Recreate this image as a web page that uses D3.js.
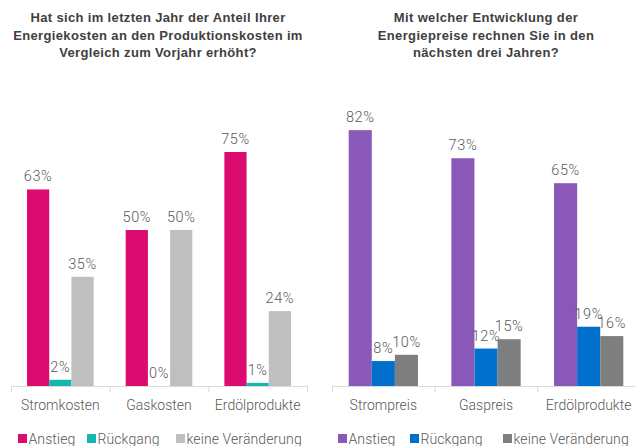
<!DOCTYPE html>
<html><head><meta charset="utf-8">
<script src="https://cdn.jsdelivr.net/npm/d3@7"></script>
<style>body{margin:0;background:#fff}svg{display:block}</style>
</head><body>
<svg id="c" width="635" height="446"></svg>
<script>
const leftTitle = ["Hat sich im letzten Jahr der Anteil Ihrer","Energiekosten an den Produktionskosten im","Vergleich zum Vorjahr erhöht?"];
const rightTitle = ["Mit welcher Entwicklung der","Energiepreise rechnen Sie in den","nächsten drei Jahren?"];
const seriesNames = ["Anstieg","Rückgang","keine Veränderung"];
const leftCategories = ["Stromkosten","Gaskosten","Erdölprodukte"];
const leftAnstieg = [63,50,75];
const leftRueckgang = [2,0,1];
const leftKeine = [35,50,24];
const rightCategories = ["Strompreis","Gaspreis","Erdölprodukte"];
const rightAnstieg = [82,73,65];
const rightRueckgang = [8,12,19];
const rightKeine = [10,15,16];
const leftColors = ["#db0b6f","#12b8ae","#bfbfbf"];
const rightColors = ["#8a58b8","#0070cc","#7f7f7f"];

const svg = d3.select("#c");
const font = "'Liberation Sans', Arial, sans-serif";
const lightFont = "Roboto, 'Liberation Sans', Arial, sans-serif";
const y = d3.scaleLinear().domain([0,100]).range([386,74]);

function panel(cfg){
  const g = svg.append("g");
  const x = d3.scaleBand().domain(cfg.cats).range(cfg.xr).paddingInner(0).paddingOuter(0);
  // title
  const t = g.append("text").attr("text-anchor","middle").attr("font-family",font)
    .attr("font-weight","bold").attr("font-size",13).attr("letter-spacing",0.35).attr("fill","#404040");
  cfg.title.forEach((l,i)=>t.append("tspan").attr("x",cfg.tx).attr("y",22+i*17.5).text(l));
  // axis
  const ax = g.append("g").attr("transform","translate(0,386)")
    .call(d3.axisBottom(x).tickSize(0).tickSizeOuter(0).tickPadding(14));
  ax.select(".domain").attr("stroke","#d9d9d9");
  ax.selectAll(".tick text").attr("font-family",lightFont).attr("font-weight",300)
    .attr("font-size",14).attr("fill","#595959");
  const edges = cfg.cats.map(c=>x(c)).concat([cfg.xr[1]]);
  g.selectAll("line.sep").data(edges).enter().append("line")
    .attr("x1",d=>d+0.5).attr("x2",d=>d+0.5).attr("y1",386).attr("y2",392).attr("stroke","#d9d9d9");
  cfg.series.forEach((vals,si)=>{
    const bw = x.bandwidth()*0.225;
    const off = (x.bandwidth()-3*bw)/2;
    const gg = g.append("g");
    gg.selectAll("rect").data(vals).enter().append("rect")
      .attr("x",(d,i)=>x(cfg.cats[i])+off+si*bw)
      .attr("width",bw).attr("y",d=>y(d)).attr("height",d=>386-y(d))
      .attr("fill",cfg.colors[si]);
    gg.selectAll("text").data(vals).enter().append("text")
      .attr("x",(d,i)=>x(cfg.cats[i])+off+si*bw+bw/2)
      .attr("y",d=>y(d)-8).attr("text-anchor","middle")
      .attr("font-family",lightFont).attr("font-weight",300).attr("letter-spacing",0.6)
      .attr("font-size",14.5).attr("fill","#595959")
      .text(d=>d+"%");
  });
  // legend
  const lg = g.append("g");
  cfg.legendX.forEach((lx,i)=>{
    lg.append("rect").attr("x",lx).attr("y",434).attr("width",9).attr("height",9).attr("fill",cfg.colors[i]);
    lg.append("text").attr("x",lx+10.5).attr("y",443.5).attr("font-family",lightFont).attr("font-weight",300)
      .attr("font-size",14).attr("letter-spacing",0.1)
      .attr("fill","#595959").text(seriesNames[i]);
  });
}

panel({cats:leftCategories,xr:[11,307],title:leftTitle,tx:158,
  series:[leftAnstieg,leftRueckgang,leftKeine],colors:leftColors,legendX:[18,87,176]});
panel({cats:rightCategories,xr:[332,640],title:rightTitle,tx:486,
  series:[rightAnstieg,rightRueckgang,rightKeine],colors:rightColors,legendX:[338,410,503]});
</script>
</body></html>
